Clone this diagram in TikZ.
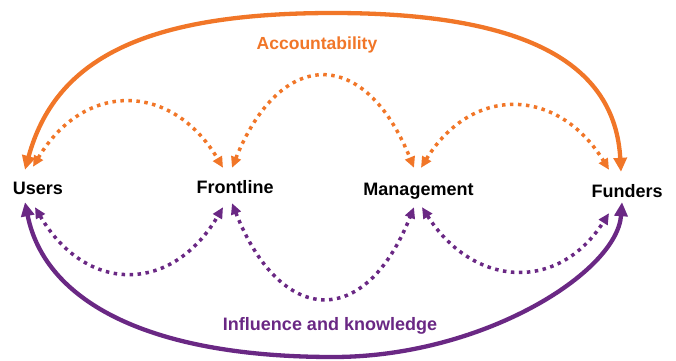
\documentclass[tikz,border=0pt]{standalone}
\usepackage{fontspec}
\setmainfont{Liberation Sans}
\usetikzlibrary{arrows.meta}
\definecolor{acc}{RGB}{241,118,40}
\definecolor{infl}{RGB}{106,40,132}
\begin{document}
\begin{tikzpicture}[x=1pt,y=1pt,
  actor/.style={font=\fontsize{18}{18}\selectfont\bfseries, inner sep=0pt,
    text height=13pt, text depth=4pt, anchor=base},
  flowlabel/.style={font=\bfseries, inner sep=0pt, anchor=base},
  bothsolid/.style={line width=4.3pt, {Triangle[length=14pt,width=13pt]}-{Triangle[length=14pt,width=13pt]}},
  dotflow/.style={line width=3.5pt, dash pattern=on 3.5pt off 4.5pt,
    {Triangle[length=11pt,width=10pt]}-{Triangle[length=11pt,width=10pt]}}]
\useasboundingbox (0,0) rectangle (676,360);

% the four actors
\node[actor] (U)  at (38,166)    {Users};
\node[actor] (F)  at (235,167)   {Frontline};
\node[actor] (M)  at (418.5,165) {Management};
\node[actor] (Fu) at (627,163)   {Funders};

% flow labels
\node[flowlabel, text=acc,  font=\fontsize{17.5}{17.5}\selectfont\bfseries] (accl) at (317,311) {Accountability};
\node[flowlabel, text=infl, font=\fontsize{18}{18}\selectfont\bfseries] (infll) at (330,30) {Influence and knowledge};

% outer accountability arc
\coordinate (acctop) at (333,347);
\draw[bothsolid, acc]
  ([shift={(-13,11)}]U.north) .. controls +(30,110) and +(-190,0) .. (acctop)
  .. controls +(190,0) and +(-6,110) .. ([shift={(-6,12)}]Fu.north);

% outer influence arc
\coordinate (inflbot) at (333,3);
\draw[bothsolid, infl]
  ([shift={(-13,-4)}]U.south) .. controls +(20,-100) and +(-183,0) .. (inflbot)
  .. controls +(150,0) and +(-5,-70) .. ([shift={(-5,-1)}]Fu.south);

% dotted accountability links between neighbours
\draw[dotflow, acc] ([shift={(-5,14)}]U.north) .. controls +(51,86) and +(-51,86) .. ([shift={(-12,12)}]F.north);
\draw[dotflow, acc] ([shift={(-3,12)}]F.north) .. controls +(49,121) and +(-49,121) .. ([shift={(-4.5,14)}]M.north);
\draw[dotflow, acc] ([shift={(2.5,14)}]M.north) .. controls +(51,83) and +(-51,83) .. ([shift={(-18,14)}]Fu.north);

% dotted influence links between neighbours
\draw[dotflow, infl] ([shift={(-3,-9)}]U.south) .. controls +(51,-87) and +(-51,-87) .. ([shift={(-12,-10)}]F.south);
\draw[dotflow, infl] ([shift={(-3,-6)}]F.south) .. controls +(49,-123) and +(-49,-123) .. ([shift={(-4.5,-8)}]M.south);
\draw[dotflow, infl] ([shift={(3.5,-8)}]M.south) .. controls +(51,-80) and +(-51,-80) .. ([shift={(-18,-12)}]Fu.south);
\end{tikzpicture}
\end{document}
